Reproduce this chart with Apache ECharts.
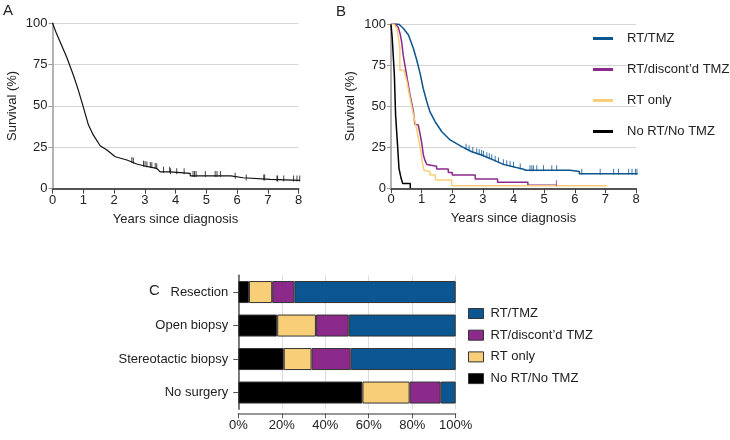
<!DOCTYPE html>
<html><head><meta charset="utf-8">
<script src="https://cdn.jsdelivr.net/npm/echarts@6/dist/echarts.min.js"></script>
<style>html,body{margin:0;padding:0;background:#fff}#c{width:730px;height:440px}</style>
</head><body><div id="c"></div>
<script>
// ---------- Data ----------
const yearTicks = [0,1,2,3,4,5,6,7,8];
const survTicks = [0,25,50,75,100];

// Panel A: overall survival [years, %]
const kmAll = [[0,100],[0.13,93.6],[0.46,79.5],[0.68,68.5],[0.84,59.5],[1.0,49.4],[1.17,38.4],[1.33,32.3],[1.55,25.9],[1.77,23.3],[2.04,19.3],[2.42,17.3],[2.74,14.9],[3.0,13.7],[3.39,12.3],[3.5,10.2],[3.83,10.2],[3.83,9.3],[4.48,9.3],[4.48,7.7],[5.8,7.7],[5.8,6.6],[6.2,6.6],[6.2,5.6],[7.08,5.6],[7.08,5.0],[8.05,5.0]];
const censAll = [2.58,2.63,2.96,3.01,3.07,3.18,3.23,3.34,3.39,3.61,3.81,3.84,4.04,4.28,4.57,4.62,4.67,4.97,5.29,5.35,5.46,5.94,6.30,6.87,6.90,7.30,7.32,7.52,7.84,7.95,8.04];

// Panel B: by treatment group
const kmRtTmz = [[0,100],[0.26,100],[0.4,97.6],[0.57,93.5],[0.73,85.4],[0.84,78.2],[0.95,70.1],[1.05,61],[1.17,52.8],[1.27,46.7],[1.44,40.6],[1.66,34.5],[1.93,29.5],[2.31,25.4],[2.64,22.3],[2.96,20.3],[3.34,17.3],[3.67,14.6],[4.33,11.6],[4.4,11.0],[5.85,11.0],[5.85,10.2],[6.15,10.2],[6.15,8.9],[8.05,8.9]];
const censRtTmz = [2.45,2.55,2.67,2.8,2.88,2.96,3.02,3.13,3.21,3.29,3.4,3.51,3.67,3.78,3.89,4.0,4.22,4.54,4.6,4.65,4.76,4.98,5.25,5.41,6.23,6.83,7.27,7.43,7.76,7.87,7.98,8.03];
const kmRtDisc = [[0,100],[0.15,100],[0.24,98],[0.3,94],[0.35,89],[0.4,81],[0.51,69],[0.62,57],[0.73,47],[0.78,39],[0.89,38.6],[0.95,33],[1.0,28],[1.06,20],[1.11,17],[1.17,14.5],[1.17,13.5],[1.49,13.5],[1.49,11.8],[1.87,11.8],[1.87,9.6],[2.0,9.6],[2.0,8.1],[2.75,8.1],[2.75,5.7],[3.48,5.7],[3.48,3.7],[4.47,3.7],[4.47,1.8],[5.4,1.8]];
const censRtDisc = [5.4];
const kmRtOnly = [[0,100],[0.1,100],[0.19,97.6],[0.29,86],[0.29,72],[0.42,72],[0.51,66],[0.62,55],[0.73,45],[0.84,36],[0.92,28],[0.98,22],[1.02,16],[1.08,11],[1.11,10.2],[1.27,10.2],[1.27,8.1],[1.44,8.1],[1.46,5.1],[1.98,5.1],[1.98,1.6],[7.05,1.6]];
const kmNoRt = [[0,100],[0.01,100],[0.04,91.5],[0.11,69.1],[0.15,44.7],[0.22,24.4],[0.26,12.2],[0.33,6.1],[0.38,6.1],[0.38,3.0],[0.63,3.0],[0.63,0]];

// Panel C: treatment by extent of surgery (%)
const surgeryCats = ['Resection','Open biopsy','Stereotactic biopsy','No surgery'];
const pctNoRt   = [4.9, 17.9, 20.9, 57.1];
const pctRtOnly = [10.7, 17.8, 12.8, 21.7];
const pctRtDisc = [10.2, 15.1, 18.0, 14.3];
const pctRtTmz  = [74.2, 49.2, 48.3, 6.9];
const pctTicks = [0,20,40,60,80,100];

const groupNames = ['RT/TMZ','RT/discont\u2019d TMZ','RT only','No RT/No TMZ'];
const groupColors = ['#0b5691','#8b2a8a','#f8cf78','#000000'];

// ---------- Helpers ----------
function survAt(curve, t){
  let v = curve[0][1];
  for (let i=0;i<curve.length;i++){
    if (curve[i][0] <= t) v = curve[i][1];
    else {
      const a = curve[i-1], b = curve[i];
      if (a && b[0] !== a[0] && b[1] !== a[1] && t > a[0]) v = a[1] + (b[1]-a[1])*(t-a[0])/(b[0]-a[0]);
      break;
    }
  }
  return v;
}
const FONT = '"Liberation Sans", Arial, Helvetica, sans-serif';
const TXT = '#222';

function kmXAxis(gi){
  return {gridIndex:gi, type:'value', min:0, max:8, interval:1,
    name:'Years since diagnosis', nameLocation:'middle', nameGap:24,
    nameTextStyle:{fontSize:13, color:TXT, fontFamily:FONT},
    axisLine:{show:true, lineStyle:{color:'#555', width:2}},
    axisTick:{show:true, length:5, lineStyle:{color:'#444'}},
    axisLabel:{fontSize:13, color:TXT, fontFamily:FONT, margin:5},
    splitLine:{show:false}};
}
function kmYAxis(gi){
  return {gridIndex:gi, type:'value', min:0, max:100, interval:25,
    name:'Survival (%)', nameLocation:'middle', nameGap:34,
    nameTextStyle:{fontSize:13, color:TXT, fontFamily:FONT},
    axisLine:{show:true, lineStyle:{color:'#999', width:1.5}},
    axisTick:{show:true, length:4, lineStyle:{color:'#999'}},
    axisLabel:{fontSize:13, color:TXT, fontFamily:FONT, margin:5},
    splitLine:{show:true, lineStyle:{color:'#d6d6d6', width:1}}};
}
function kmLine(name, data, color, gi, w){
  return {type:'line', name:name, xAxisIndex:gi, yAxisIndex:gi, data:data,
    showSymbol:false, symbol:'none', clip:false, animation:false,
    lineStyle:{color:color, width:w}, itemStyle:{color:color}, z:3};
}
function censor(name, curve, times, color, gi){
  return {type:'scatter', name:name, xAxisIndex:gi, yAxisIndex:gi,
    data: times.map(t=>[t, survAt(curve,t)]),
    symbol:'rect', symbolSize:[1,6], symbolOffset:[0,-2], clip:false,
    itemStyle:{color:color}, animation:false, z:4, legendHoverLink:false};
}

function barSeries(name, data, color){
  return {type:'bar', name:name, stack:'s', xAxisIndex:2, yAxisIndex:2, data:data,
    barWidth:22, animation:false,
    itemStyle:{color:color, borderColor:'#333', borderWidth:1}};
}

const option = {
  backgroundColor:'#fff',
  textStyle:{fontFamily:FONT},
  grid:[
    {left:52.5, top:23, width:246, height:165.7},
    {left:391, top:24.3, width:245, height:164},
    {left:238.3, top:275.3, width:217.4, height:134}
  ],
  xAxis:[
    kmXAxis(0), kmXAxis(1),
    {gridIndex:2, type:'value', min:0, max:100, interval:20, offset:4,
     axisLine:{show:true, lineStyle:{color:'#777', width:1.5}},
     axisTick:{show:true, length:5, lineStyle:{color:'#555'}},
     axisLabel:{fontSize:13, color:TXT, fontFamily:FONT, margin:6, formatter:'{value}%'},
     splitLine:{show:true, lineStyle:{color:'#dcdcdc', width:1}}}
  ],
  yAxis:[
    kmYAxis(0), kmYAxis(1),
    {gridIndex:2, type:'category', data:surgeryCats, inverse:true,
     axisLine:{show:true, lineStyle:{color:'#555', width:1.5}},
     axisTick:{show:true, alignWithLabel:true, length:5, lineStyle:{color:'#555'}},
     axisLabel:{fontSize:13, color:TXT, fontFamily:FONT, margin:10}}
  ],
  legend:[
    {data:groupNames, orient:'vertical', left:588, top:27, icon:'rect',
     itemWidth:20, itemHeight:3, itemGap:18, selectedMode:false,
     textStyle:{fontSize:13, color:TXT, fontFamily:FONT, padding:[0,0,0,9]}},
    {data:groupNames, orient:'vertical', left:463, top:302, icon:'rect',
     itemWidth:15, itemHeight:10, itemGap:8.7, selectedMode:false,
     itemStyle:{borderColor:'#333', borderWidth:1},
     textStyle:{fontSize:13, color:TXT, fontFamily:FONT, padding:[0,0,0,2]}}
  ],
  graphic:[
    {type:'text', left:3, top:3, style:{text:'A', font:'15px '+FONT, fill:TXT}},
    {type:'text', left:336, top:4, style:{text:'B', font:'15px '+FONT, fill:TXT}},
    {type:'text', left:149, top:283, style:{text:'C', font:'15px '+FONT, fill:TXT}}
  ],
  series:[
    kmLine('Overall', kmAll, '#111', 0, 1.2),
    censor('Overall', kmAll, censAll, '#111', 0),
    kmLine(groupNames[0], kmRtTmz, groupColors[0], 1, 1.5),
    censor(groupNames[0], kmRtTmz, censRtTmz, groupColors[0], 1),
    kmLine(groupNames[1], kmRtDisc, groupColors[1], 1, 1.5),
    censor(groupNames[1], kmRtDisc, censRtDisc, groupColors[1], 1),
    kmLine(groupNames[2], kmRtOnly, groupColors[2], 1, 1.5),
    kmLine(groupNames[3], kmNoRt, groupColors[3], 1, 1.5),
    barSeries(groupNames[3], pctNoRt, groupColors[3]),
    barSeries(groupNames[2], pctRtOnly, groupColors[2]),
    barSeries(groupNames[1], pctRtDisc, groupColors[1]),
    barSeries(groupNames[0], pctRtTmz, groupColors[0])
  ]
};
const chart = echarts.init(document.getElementById('c'), null, {renderer:'canvas'});
chart.setOption(option);
</script></body></html>
